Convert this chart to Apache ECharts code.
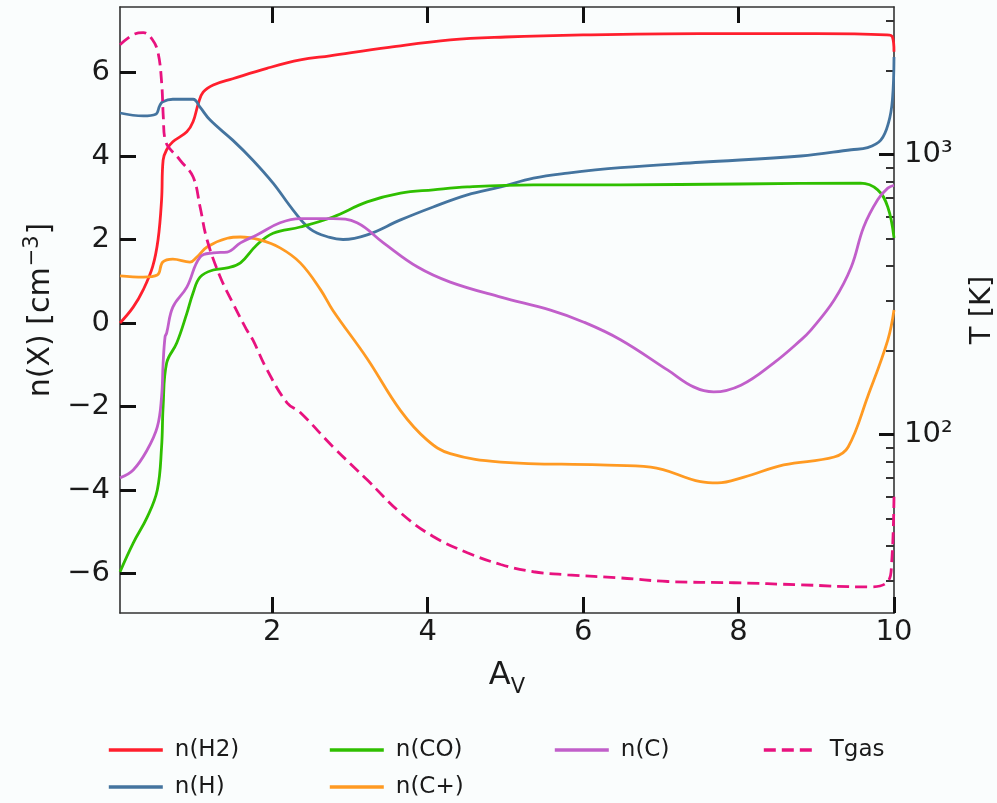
<!DOCTYPE html>
<html>
<head>
<meta charset="utf-8">
<script src="https://cdn.jsdelivr.net/npm/echarts@6/dist/echarts.min.js"></script>
<style>
html,body{margin:0;padding:0;background:#fafdfd;}
#chart{width:997px;height:803px;}
</style>
</head>
<body>
<div id="chart"></div>
<script>
// ---- data (A_V, value) ----
const nH2 = [[0.04,0.0],[0.21,0.38],[0.34,0.8],[0.46,1.35],[0.53,2.0],[0.575,2.95],[0.595,3.9],[0.64,4.15],[0.72,4.34],[0.90,4.58],[0.98,4.82],[1.05,5.27],[1.11,5.53],[1.24,5.7],[1.49,5.85],[1.93,6.1],[2.36,6.3],[2.74,6.4],[3.5,6.6],[4.29,6.78],[5.0,6.85],[6.0,6.9],[7.5,6.93],[9.0,6.93],[9.9,6.9],[9.98,6.85],[10.0,6.5]];
const nH = [[0.04,5.03],[0.34,4.96],[0.50,5.0],[0.55,5.2],[0.59,5.3],[0.72,5.36],[0.98,5.36],[1.07,5.17],[1.20,4.86],[1.49,4.38],[1.75,3.9],[2.01,3.35],[2.27,2.7],[2.49,2.25],[2.74,2.05],[2.91,2.0],[3.22,2.11],[3.65,2.47],[4.07,2.78],[4.51,3.07],[4.94,3.26],[5.36,3.47],[5.80,3.59],[6.48,3.72],[7.51,3.85],[8.80,4.0],[9.45,4.15],[9.66,4.2],[9.83,4.38],[9.93,4.8],[9.98,5.35],[10.0,6.37]];
const nCO = [[0.04,-5.96],[0.21,-5.27],[0.39,-4.65],[0.52,-4.0],[0.575,-2.97],[0.595,-2.0],[0.64,-0.96],[0.77,-0.48],[0.90,0.23],[0.98,0.72],[1.07,1.1],[1.24,1.27],[1.42,1.32],[1.59,1.44],[1.80,1.87],[2.01,2.15],[2.36,2.3],[2.78,2.54],[3.22,2.9],[3.65,3.11],[4.07,3.19],[4.51,3.26],[5.36,3.31],[6.48,3.31],[8.0,3.33],[9.57,3.35],[9.79,3.19],[9.92,2.78],[10.0,2.04]];
const nC = [[0.04,-3.71],[0.21,-3.52],[0.39,-3.04],[0.52,-2.49],[0.575,-1.77],[0.595,-0.96],[0.62,-0.33],[0.64,-0.24],[0.72,0.38],[0.90,0.86],[1.07,1.58],[1.24,1.68],[1.42,1.70],[1.59,1.92],[1.80,2.11],[2.10,2.4],[2.36,2.5],[2.78,2.5],[3.09,2.4],[3.43,1.92],[3.87,1.34],[4.29,0.98],[4.94,0.62],[5.58,0.31],[6.01,0.02],[6.48,-0.4],[7.09,-1.13],[7.42,-1.53],[7.68,-1.65],[8.03,-1.49],[8.45,-0.96],[8.80,-0.41],[8.93,-0.17],[9.23,0.55],[9.45,1.34],[9.61,2.3],[9.79,2.95],[9.92,3.23],[10.0,3.3]];
const nCp = [[0.04,1.13],[0.34,1.1],[0.52,1.15],[0.59,1.46],[0.72,1.53],[0.94,1.46],[1.03,1.58],[1.16,1.82],[1.42,2.03],[1.59,2.06],[1.84,1.99],[2.10,1.8],[2.36,1.44],[2.62,0.8],[2.78,0.3],[3.22,-0.85],[3.65,-2.1],[3.99,-2.8],[4.29,-3.13],[4.94,-3.33],[6.22,-3.4],[6.87,-3.45],[7.51,-3.8],[7.73,-3.83],[8.07,-3.69],[8.58,-3.4],[9.23,-3.21],[9.41,-2.97],[9.66,-1.77],[9.92,-0.41],[10.0,0.31]];
const Tgas = [[0.04,2472],[0.21,2685],[0.34,2729],[0.46,2570],[0.53,2312],[0.576,1807],[0.597,1368],[0.62,1132],[0.81,959],[0.98,834],[1.07,652],[1.16,497],[1.33,366],[1.49,296],[1.67,237],[1.75,218],[1.93,171],[2.19,130],[2.36,120],[2.78,90.6],[3.22,69],[3.65,52.6],[4.07,43.3],[4.51,37.9],[4.94,34.4],[5.36,32.4],[5.80,31.6],[6.48,30.8],[7.09,29.9],[7.94,29.6],[8.80,29.1],[9.66,28.6],[9.92,29.9],[9.97,34.9],[10.0,60]];

const xTicks = [2,4,6,8,10];
const nTicks = [-6,-4,-2,0,2,4,6];
const tMajor = [100,1000];
const tMinor = [30,40,50,60,70,80,90,200,300,400,500,600,700,800,900,2000,3000];

const FONT = 'DejaVu Sans';
const INK = '#1a1a1a';
const chart = echarts.init(document.getElementById('chart'), null, {renderer:'canvas'});

const line = (name, data, color, yIdx, dashed) => ({
  name, type:'line', data, xAxisIndex:0, yAxisIndex:yIdx,
  symbol:'none', showSymbol:false, smooth:0.4,
  lineStyle:{color, width:2.8, type: dashed ? [12,6] : 'solid'},
  itemStyle:{color}, z: dashed ? 3 : 2, animation:false
});

const legendCol = (left, data) => ({
  orient:'vertical', left, top:737, padding:0, data,
  itemWidth:54, itemHeight:14, itemGap:11,
  itemStyle:{opacity:0},
  lineStyle:{width:3.6},
  textStyle:{fontFamily:FONT, fontSize:23, color:INK, lineHeight:26, padding:[0,0,0,7]}
});

chart.setOption({
  backgroundColor:'#fafdfd',
  animation:false,
  grid:{left:120, right:103, top:7, bottom:190, outerBoundsMode:'none', containLabel:false},
  legend:[
    legendCol(107, ['n(H2)','n(H)']),
    legendCol(328, ['n(CO)','n(C+)']),
    legendCol(553, ['n(C)']),
    legendCol(762, ['Tgas'])
  ],
  xAxis:[{
    type:'value', min:0.04, max:10, position:'bottom',
    axisLine:{show:true, onZero:false, lineStyle:{color:'#333', width:1.6}},
    axisTick:{show:true, inside:true, length:16, customValues:xTicks, lineStyle:{color:'#111', width:3}},
    axisLabel:{show:true, customValues:xTicks, margin:5, fontFamily:FONT, fontSize:29, color:INK},
    splitLine:{show:false},
    name:'{a|A}{v|V}', nameLocation:'middle', nameGap:47,
    nameTextStyle:{rich:{
      a:{fontFamily:FONT, fontSize:32, color:INK, verticalAlign:'bottom', padding:[0,0,6,0]},
      v:{fontFamily:FONT, fontSize:21, color:INK, verticalAlign:'bottom'}
    }}
  },{
    type:'value', min:0.04, max:10, position:'top',
    axisLine:{show:true, onZero:false, lineStyle:{color:'#333', width:1.6}},
    axisTick:{show:true, inside:true, length:16, customValues:[2,4,6,8], lineStyle:{color:'#111', width:3}},
    axisLabel:{show:false}, splitLine:{show:false}
  }],
  yAxis:[{
    type:'value', min:-6.946, max:7.569, position:'left',
    axisLine:{show:true, onZero:false, lineStyle:{color:'#333', width:1.6}},
    axisTick:{show:true, inside:true, length:16, customValues:nTicks, lineStyle:{color:'#111', width:3}},
    axisLabel:{show:true, customValues:nTicks, margin:10, fontFamily:FONT, fontSize:29, color:INK,
      formatter:v => v < 0 ? '\u2212' + Math.abs(v) : String(v)},
    splitLine:{show:false},
    name:'{b|n(X) [cm}{s|\u22123}{b|]}', nameLocation:'middle', nameGap:62, nameRotate:90,
    nameTextStyle:{rich:{
      b:{fontFamily:FONT, fontSize:30, color:INK, verticalAlign:'bottom'},
      s:{fontFamily:FONT, fontSize:21, color:INK, verticalAlign:'bottom', padding:[0,1,13,1]}
    }}
  },{
    type:'log', logBase:10, min:23.08, max:3370, position:'right',
    axisLine:{show:true, onZero:false, lineStyle:{color:'#333', width:1.6}},
    axisTick:{show:true, inside:true, length:15, customValues:tMajor, lineStyle:{color:'#111', width:3}},
    axisLabel:{show:true, customValues:tMajor, margin:10, fontFamily:FONT, fontSize:29, color:INK,
      formatter:v => (Math.round(Math.log10(v)) === 2 ? '10\u00B2' : '10\u00B3')},
    splitLine:{show:false},
    name:'T [K]', nameLocation:'middle', nameGap:74, nameRotate:90,
    nameTextStyle:{fontFamily:FONT, fontSize:29, color:INK}
  },{
    type:'log', logBase:10, min:23.08, max:3370, position:'right',
    axisLine:{show:false},
    axisTick:{show:true, inside:true, length:8, customValues:tMinor, lineStyle:{color:'#333', width:2}},
    axisLabel:{show:false}, splitLine:{show:false}
  }],
  series:[
    line('n(H2)', nH2, '#ff1f2d', 0, false),
    line('n(H)', nH, '#44749f', 0, false),
    line('n(CO)', nCO, '#2fbf00', 0, false),
    line('n(C+)', nCp, '#ff9a22', 0, false),
    line('n(C)', nC, '#c15fca', 0, false),
    line('Tgas', Tgas, '#e8127f', 1, true)
  ]
});
</script>
</body>
</html>
